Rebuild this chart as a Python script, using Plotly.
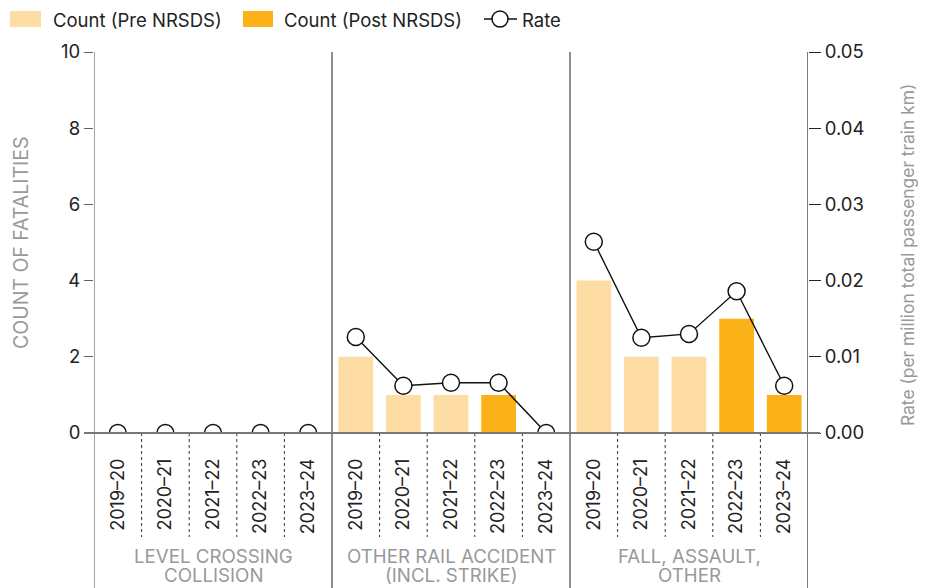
import plotly.graph_objects as go

groups = ["LEVEL CROSSING<br>COLLISION", "OTHER RAIL ACCIDENT<br>(INCL. STRIKE)", "FALL, ASSAULT,<br>OTHER"]
years = ["2019–20", "2020–21", "2021–22", "2022–23", "2023–24"]
post_years = ["2022–23", "2023–24"]
counts_level = [0, 0, 0, 0, 0]
counts_other_rail = [2, 1, 1, 1, 0]
counts_fall = [4, 2, 2, 3, 1]
rates_level = [0.0, 0.0, 0.0, 0.0, 0.0]
rates_other_rail = [0.0126, 0.0062, 0.0066, 0.0066, 0.0]
rates_fall = [0.0251, 0.0125, 0.0130, 0.0186, 0.0062]
count_ticks = [0, 2, 4, 6, 8, 10]
rate_ticks = [0, 0.01, 0.02, 0.03, 0.04, 0.05]
legend_labels = ["Count (Pre NRSDS)", "Count (Post NRSDS)", "Rate"]

counts_all = [counts_level, counts_other_rail, counts_fall]
rates_all = [rates_level, rates_other_rail, rates_fall]

PRE = "#FDDDA3"
POST = "#FBB118"
FONT = "Inter"
OFF = 8  # page body margin
W, H = 926 - OFF, 588 - OFF
L, T = 94 - OFF, 52 - OFF
pw, ph = 714, 381
R = W - L - pw
B = H - T - ph


def px(x):
    # x in reference-screen pixels -> paper coords
    return (x - 94) / pw


def py(y):
    return (433 - y) / ph


pre_x, pre_y, post_x, post_y = [], [], [], []
rate_x, rate_y = [], []
tickvals, ticktext = [], []
n = len(years)
for gi, (cnts, rts) in enumerate(zip(counts_all, rates_all)):
    for yi, yr in enumerate(years):
        xpos = gi * n + yi
        tickvals.append(xpos)
        ticktext.append(yr)
        if yr in post_years:
            post_x.append(xpos); post_y.append(cnts[yi])
        else:
            pre_x.append(xpos); pre_y.append(cnts[yi])
        rate_x.append(xpos); rate_y.append(rts[yi])
    if gi < len(groups) - 1:
        rate_x.append(None); rate_y.append(None)

fig = go.Figure()
fig.add_trace(go.Bar(x=pre_x, y=pre_y, name=legend_labels[0], marker=dict(color=PRE, line=dict(width=0)), width=0.73))
fig.add_trace(go.Bar(x=post_x, y=post_y, name=legend_labels[1], marker=dict(color=POST, line=dict(width=0)), width=0.73))
fig.add_trace(go.Scatter(x=rate_x, y=rate_y, name=legend_labels[2], yaxis="y2", mode="lines+markers",
                         connectgaps=False,
                         line=dict(color="#111111", width=1.4),
                         marker=dict(size=17, color="white", line=dict(color="#111111", width=1.5))))

shapes = []
bottom = py(590)
for xv, col in [(-0.5, "#666666"), (4.5, "#444444"), (9.5, "#444444"), (14.5, "#222222")]:
    shapes.append(dict(type="line", xref="x", yref="paper", x0=xv, x1=xv, y0=1, y1=bottom,
                       line=dict(color=col, width=1.2)))
for gi in range(len(groups)):
    for k in range(n - 1):
        xv = gi * n + k + 0.5
        shapes.append(dict(type="line", xref="x", yref="paper", x0=xv, x1=xv, y0=0, y1=py(537),
                           line=dict(color="#333333", width=1, dash="dot")))
shapes.append(dict(type="line", xref="paper", yref="paper", x0=px(84), x1=px(820), y0=0, y1=0,
                   line=dict(color="#777777", width=1.8)))

# manual legend
shapes.append(dict(type="rect", xref="paper", yref="paper", x0=px(10), x1=px(41), y0=py(27), y1=py(11),
                   fillcolor=PRE, line=dict(width=0)))
shapes.append(dict(type="rect", xref="paper", yref="paper", x0=px(243), x1=px(273), y0=py(27), y1=py(11),
                   fillcolor=POST, line=dict(width=0)))
shapes.append(dict(type="line", xref="paper", yref="paper", x0=px(484), x1=px(517), y0=py(19), y1=py(19),
                   line=dict(color="#111111", width=1.4)))
shapes.append(dict(type="circle", xref="paper", yref="paper", x0=px(492), x1=px(508), y0=py(27), y1=py(11),
                   fillcolor="white", line=dict(color="#111111", width=1.5)))

annotations = []
for lx, txt in [(51, legend_labels[0]), (282, legend_labels[1]), (520, legend_labels[2])]:
    annotations.append(dict(x=px(lx), y=py(20), xref="paper", yref="paper", text=txt, showarrow=False,
                            xanchor="left", yanchor="middle",
                            font=dict(family=FONT, size=18.5, color="#222222")))

for gi, g in enumerate(groups):
    for li, line in enumerate(g.split("<br>")):
        annotations.append(dict(x=gi * n + 2, y=py(556 + 19.5 * li), xref="x", yref="paper", text=line,
                                showarrow=False, yanchor="middle", xanchor="center",
                                font=dict(family=FONT, size=18.7, color="#999999")))

annotations.append(dict(x=px(21), y=py(243), xref="paper", yref="paper", text="COUNT OF FATALITIES",
                        textangle=-90, showarrow=False, xanchor="center", yanchor="middle",
                        font=dict(family=FONT, size=19.5, color="#999999")))
annotations.append(dict(x=px(907), y=py(255), xref="paper", yref="paper",
                        text="Rate (per million total passenger train km)",
                        textangle=-90, showarrow=False, xanchor="center", yanchor="middle",
                        font=dict(family=FONT, size=17.4, color="#999999")))

fig.update_layout(
    width=W, height=H,
    margin=dict(l=L, r=R, t=T, b=B, autoexpand=False),
    plot_bgcolor="white", paper_bgcolor="white",
    barmode="overlay",
    font=dict(family=FONT, size=18, color="#222222"),
    showlegend=False,
    xaxis=dict(range=[-0.5, 14.5], tickmode="array", tickvals=tickvals, ticktext=ticktext,
               tickangle=-90, ticks="", showgrid=False, zeroline=False, showline=False, automargin=False,
               ticklabelstandoff=21, tickfont=dict(family=FONT, size=18, color="#222222")),
    yaxis=dict(range=[0, 10], tickvals=count_ticks, ticks="outside", ticklen=9,
               tickcolor="#666666", showgrid=False, zeroline=False, showline=False, automargin=False,
               tickfont=dict(family=FONT, size=18.5, color="#222222")),
    yaxis2=dict(range=[0, 0.05], overlaying="y", side="right", tickvals=rate_ticks,
                tickformat=".2f", ticks="outside", ticklen=12, tickcolor="#222222", tickwidth=1.2,
                showgrid=False, zeroline=False, showline=False, automargin=False,
                tickfont=dict(family=FONT, size=18.5, color="#222222")),
    shapes=shapes,
    annotations=annotations,
)

fig.write_html("out.html")
